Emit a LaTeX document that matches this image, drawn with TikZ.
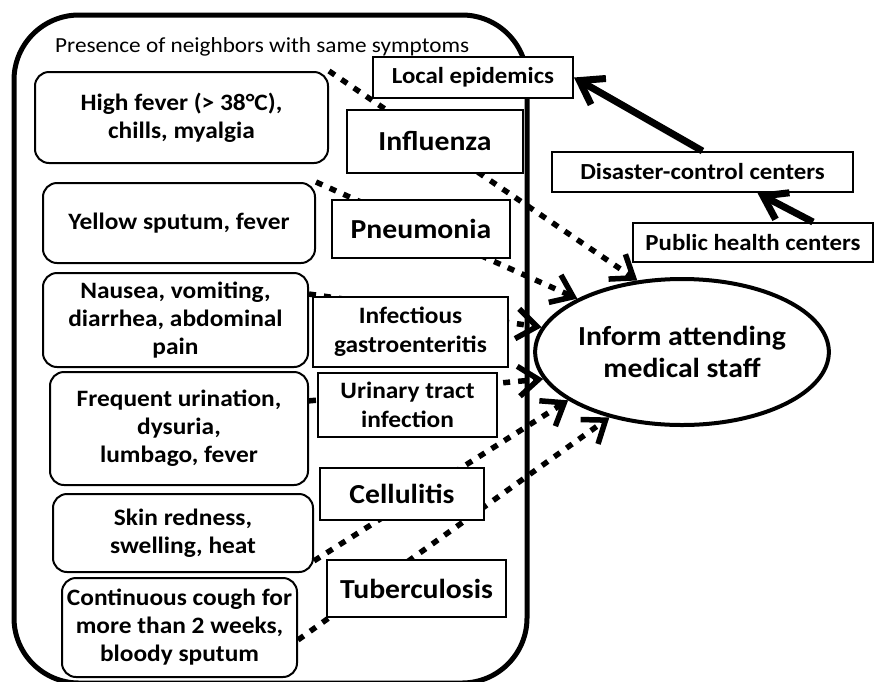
\documentclass[tikz,border=0pt]{standalone}
\usepackage{fontspec}
\setmainfont{Carlito}[FakeStretch=1.08]
\usetikzlibrary{shapes.geometric,arrows.meta}
\tikzset{
  symptom/.style={draw=black, rounded corners=14pt, line width=2pt, align=center, inner sep=0pt, font=\bfseries\fontsize{23.5}{28}\selectfont},
  disease/.style={draw=black, fill=white, line width=2.4pt, align=center, inner sep=0pt, font=\bfseries\fontsize{27.5}{33}\selectfont},
  agency/.style={draw=black, fill=white, line width=2pt, inner sep=0pt, font=\bfseries\fontsize{23}{27}\selectfont},
  report/.style={line width=5.5pt, dash pattern=on 7pt off 8pt, -{Straight Barb[length=20pt,width=30pt]}},
  escalate/.style={line width=7pt, -{Straight Barb[length=22pt,width=30pt]}}
}
\begin{document}
\begin{tikzpicture}[x=1pt,y=-1pt]
\useasboundingbox (0,0) rectangle (875,681);
\node[draw=black, line width=5pt, rounded corners=65pt, minimum width=513pt, minimum height=668pt, inner sep=0pt] (region) at (270.5,349) {};
\node[anchor=west, inner sep=0pt, font=\fontsize{21.5}{25}\selectfont] (neighbors) at (55,47) {Presence of neighbors with same symptoms};
\node[symptom, minimum width=293pt, minimum height=91pt] (hifever) at (181.5,117.5) {High fever (> 38°C),\\chills, myalgia};
\node[symptom, minimum width=272pt, minimum height=80pt] (sputum) at (179,223) {Yellow sputum, fever};
\node[symptom, minimum width=265pt, minimum height=94pt] (nausea) at (175.5,320) {Nausea, vomiting,\\diarrhea, abdominal\\pain};
\node[symptom, minimum width=258pt, minimum height=113pt] (urine) at (179,428.5) {Frequent urination,\\dysuria,\\lumbago, fever};
\node[symptom, minimum width=260pt, minimum height=78pt] (skin) at (183,533) {Skin redness,\\swelling, heat};
\node[symptom, minimum width=235pt, minimum height=99pt] (cough) at (179.5,627.5) {Continuous cough for\\more than 2 weeks,\\bloody sputum};
\node[ellipse, draw=black, fill=white, line width=4pt, minimum width=286pt, minimum height=146pt, inner sep=0pt, align=center, font=\bfseries\fontsize{27.5}{32}\selectfont] (inform) at (682,352) {Inform attending\\medical staff};
\node[agency, minimum width=200pt, minimum height=41pt] (epid) at (473,77.5) {Local epidemics};
\node[agency, minimum width=301pt, minimum height=40pt] (disaster) at (702.5,172) {Disaster-control centers};
\node[agency, minimum width=240pt, minimum height=39pt] (health) at (753,242.5) {Public health centers};
\path[report] (hifever.north east) edge (inform.122);
\path[report] (sputum.north east) edge (inform.153);
\path[report] (nausea.11) edge (inform.170);
\path[report] (urine.12) edge (inform.191);
\path[report] (skin.-12) edge (inform.203);
\path[report] (cough.-6) edge (inform.222);
\node[disease, minimum width=176pt, minimum height=63pt] (flu) at (435,141.5) {Influenza};
\node[disease, minimum width=178pt, minimum height=58pt] (pneu) at (421,229) {Pneumonia};
\node[disease, minimum width=195pt, minimum height=70pt, font=\bfseries\fontsize{23.5}{29}\selectfont] (gastro) at (410.5,332) {Infectious\\gastroenteritis};
\node[disease, minimum width=179pt, minimum height=64pt, font=\bfseries\fontsize{23.5}{29}\selectfont] (uti) at (407.5,405) {Urinary tract\\infection};
\node[disease, minimum width=164pt, minimum height=52pt] (cellu) at (402,494) {Cellulitis};
\node[disease, minimum width=179pt, minimum height=57pt] (tuber) at (416.5,588.5) {Tuberculosis};
\path[escalate] (disaster.north) edge (epid.east);
\path[escalate] ([xshift=60pt]health.north) edge ([xshift=55pt]disaster.south);
\end{tikzpicture}
\end{document}
